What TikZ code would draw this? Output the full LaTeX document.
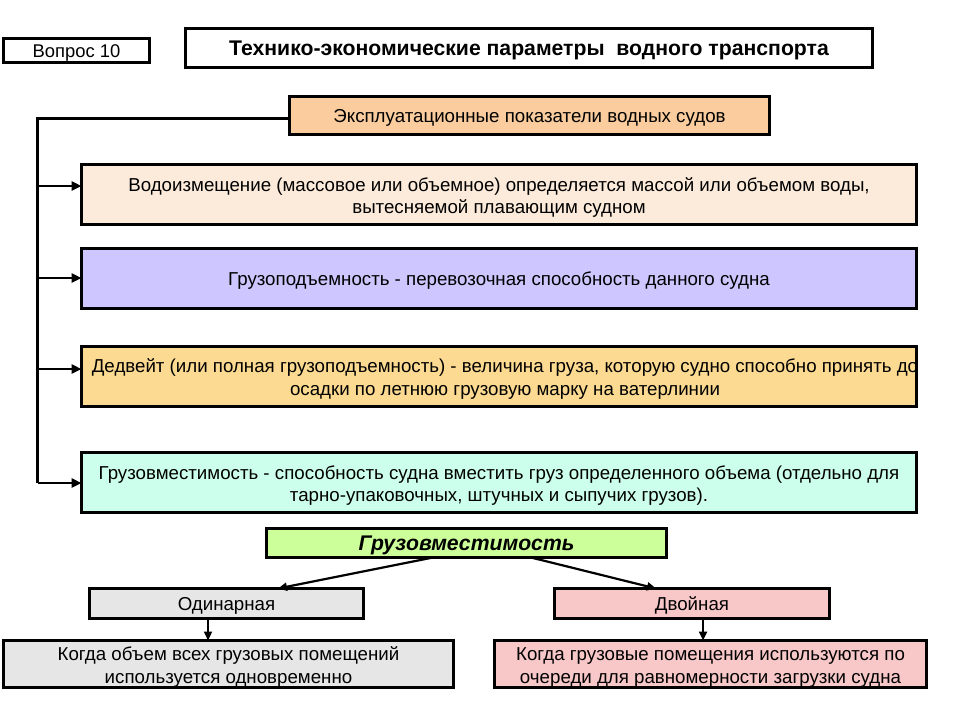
\documentclass[tikz,border=0pt]{standalone}
\usepackage{fontspec}
\setmainfont{Liberation Sans}
\usetikzlibrary{arrows.meta,calc}
\definecolor{cExp}{RGB}{250,204,158}
\definecolor{cB1}{RGB}{252,235,218}
\definecolor{cB2}{RGB}{206,198,255}
\definecolor{cB3}{RGB}{252,218,145}
\definecolor{cB4}{RGB}{204,255,236}
\definecolor{cGr}{RGB}{204,255,153}
\definecolor{cGy}{RGB}{230,230,230}
\definecolor{cPk}{RGB}{248,200,200}
\newcommand{\tp}{\rule{0pt}{19.5pt}}
\tikzset{
  box/.style={draw=black, line width=3pt, inner sep=0pt, outer sep=0pt, align=center, anchor=north west},
  conn/.style={line width=3pt},
  arr/.style={line width=2.8pt, -{Triangle[length=10pt,width=9pt]}},
  thinarr/.style={line width=2.2pt, -{Triangle[length=9pt,width=8pt]}},
  txt/.style={font=\fontsize{18.7}{22.5}\selectfont, align=center},
  oneline/.style={text height=18.5pt, text depth=4.5pt},
  bigline/.style={text height=20.5pt, text depth=5.5pt}
}
\begin{document}
\begin{tikzpicture}[x=1pt,y=-1pt]
\useasboundingbox (0,0) rectangle (960,720);
\fill[white] (0,0) rectangle (960,720);
% header
\node[box, minimum width=146pt, minimum height=24pt, font=\fontsize{18.4}{20}\selectfont, oneline] (q) at (3.5,38.5) {Вопрос 10};
\node[box, minimum width=687pt, minimum height=39pt, font=\fontsize{21.2}{24}\selectfont\bfseries, bigline] (title) at (185.5,28.5) {Технико-экономические параметры\ \ водного транспорта};
% main
\node[box, fill=cExp, minimum width=480pt, minimum height=38pt, txt, oneline] (e) at (289.5,96.5) {Эксплуатационные показатели водных судов};
\node[box, fill=cB1, minimum width=835pt, minimum height=60pt, txt] (b1) at (81.5,164.5) {\tp Водоизмещение (массовое или объемное) определяется массой или объемом воды,\\вытесняемой плавающим судном};
\node[box, fill=cB2, minimum width=835pt, minimum height=60pt, txt, oneline] (b2) at (81.5,248.5) {Грузоподъемность - перевозочная способность данного судна};
\node[box, fill=cB3, minimum width=835pt, minimum height=60pt] (b3) at (81.5,346.5) {};
\node[txt] (b3t) at ($(b3.center)+(6,2.5)$) {Дедвейт (или полная грузоподъемность) - величина груза, которую судно способно принять до\\осадки по летнюю грузовую марку на ватерлинии};
\draw[line width=3pt] (b3.north east) -- (b3.south east);
\node[box, fill=cB4, minimum width=835pt, minimum height=60pt, txt] (b4) at (81.5,452.5) {\tp Грузовместимость - способность судна вместить груз определенного объема (отдельно для\\тарно-упаковочных, штучных и сыпучих грузов).};
% trunk
\coordinate (top) at (37.5,118.5);
\coordinate (j1) at (37.5,186);
\coordinate (j2) at (37.5,278);
\coordinate (j3) at (37.5,369);
\coordinate (j4) at (37.5,483);
\draw[conn] (e.west |- top) -- (top) -- (j4);
\draw[arr] (j1) -- (j1 -| b1.west);
\draw[arr] (j2) -- (j2 -| b2.west);
\draw[arr] (j3) -- (j3 -| b3.west);
\draw[arr] (j4) -- (j4 -| b4.west);
% bottom
\node[box, fill=cGr, minimum width=400pt, minimum height=29pt, font=\fontsize{21.2}{24}\selectfont\bfseries\itshape, bigline] (g) at (266.5,528.5) {Грузовместимость};
\node[box, fill=cGy, minimum width=274pt, minimum height=30pt, font=\fontsize{18.7}{20}\selectfont, oneline] (o) at (89.5,588.5) {Одинарная};
\node[box, fill=cPk, minimum width=275pt, minimum height=30pt, font=\fontsize{18.7}{20}\selectfont, oneline] (d) at (554.5,588.5) {Двойная};
\node[box, fill=cGy, minimum width=450pt, minimum height=47pt, txt] (ot) at (3.5,640.5) {\tp Когда объем всех грузовых помещений\\используется одновременно};
\node[box, fill=cPk, minimum width=432pt, minimum height=47pt, txt] (dt) at (494.5,640.5) {\tp Когда грузовые помещения используются по\\очереди для равномерности загрузки судна};
\coordinate (gl) at (433,557.5);
\coordinate (gr) at (531,557.5);
\draw[thinarr] (gl) -- (278,588.5);
\draw[thinarr] (gr) -- (656,588.5);
\draw[thinarr] (o.south -| 208,0) -- (ot.north -| 208,0);
\draw[thinarr] (d.south -| 703,0) -- (dt.north -| 703,0);
\end{tikzpicture}
\end{document}
